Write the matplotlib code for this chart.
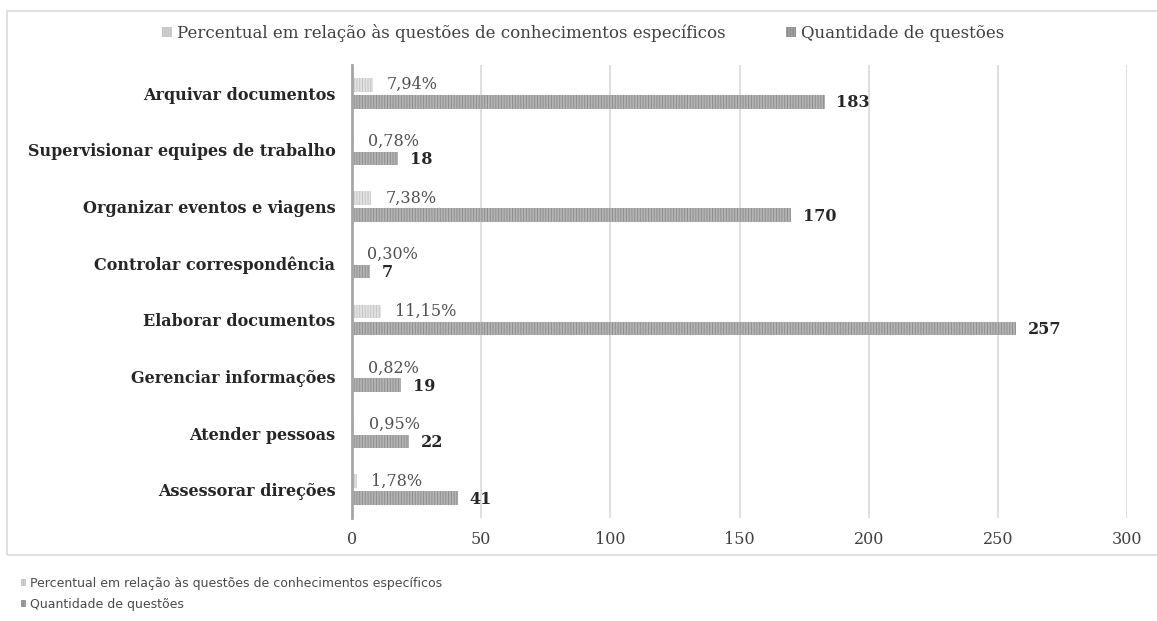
import matplotlib
matplotlib.use("Agg")
import matplotlib.pyplot as plt
from matplotlib.patches import Rectangle, Patch
import numpy as np

categories = ["Arquivar documentos", "Supervisionar equipes de trabalho",
              "Organizar eventos e viagens", "Controlar correspondência",
              "Elaborar documentos", "Gerenciar informações",
              "Atender pessoas", "Assessorar direções"]
percent_vals = [7.94, 0.78, 7.38, 0.30, 11.15, 0.82, 0.95, 1.78]
percent_labels = ["7,94%", "0,78%", "7,38%", "0,30%", "11,15%", "0,82%", "0,95%", "1,78%"]
quant_vals = [183, 18, 170, 7, 257, 19, 22, 41]
xticks = [0, 50, 100, 150, 200, 250, 300]
series_names = ["Percentual em relação às questões de conhecimentos específicos",
                "Quantidade de questões"]

plt.rcParams['font.family'] = ['DejaVu Serif']
plt.rcParams['hatch.linewidth'] = 0.7

fig = plt.figure(figsize=(11.57, 6.21), dpi=100)
# outer chart border
fig.patches.append(Rectangle((7/1157, 1-555/621), 1.0, (555-11)/621,
                             transform=fig.transFigure, fill=False,
                             edgecolor='#d9d9d9', linewidth=1.2))

ax = fig.add_axes([352/1157, 1-518/621, (1127-352)/1157, (518-65)/621])
y = np.arange(len(categories))
h = 0.24
off = 0.15
ax.barh(y - off, percent_vals, height=h, color='#e3e3e3', hatch='||||||',
        edgecolor='#c4c4c4', linewidth=0, zorder=3)
ax.barh(y + off, quant_vals, height=h, color='#b4b4b4', hatch='||||||',
        edgecolor='#8e8e8e', linewidth=0, zorder=3)

for yi, pv, pl in zip(y, percent_vals, percent_labels):
    ax.text(pv + 5.5, yi - off, pl, va='center', ha='left', fontsize=11.5,
            color='#505050', zorder=4)
for yi, qv in zip(y, quant_vals):
    ax.text(qv + 4.5, yi + off + 0.02, str(qv), va='center', ha='left', fontsize=11.5,
            color='#262626', fontweight='bold', zorder=4)

ax.set_xlim(0, 300)
ax.set_ylim(len(categories) - 0.5, -0.5)
ax.set_xticks(xticks)
ax.set_xticklabels([str(t) for t in xticks], fontsize=11.5, color='#404040')
ax.set_yticks(y)
ax.set_yticklabels(categories, fontsize=11.5, fontweight='bold', color='#262626')
ax.tick_params(axis='both', length=0)
ax.tick_params(axis='x', pad=9)
ax.tick_params(axis='y', pad=12)
ax.grid(axis='x', color='#d9d9d9', linewidth=1.2, zorder=0)
for s in ['top', 'right', 'bottom']:
    ax.spines[s].set_visible(False)
ax.spines['left'].set_color('#a6a6a6')
ax.spines['left'].set_linewidth(2)
ax.spines['left'].set_zorder(5)

handles = [Patch(facecolor='#d0d0d0', hatch='||||||', edgecolor='#bdbdbd', linewidth=0),
           Patch(facecolor='#a0a0a0', hatch='||||||', edgecolor='#8a8a8a', linewidth=0)]
fig.legend(handles, series_names, loc='center', bbox_to_anchor=(583/1157, 1-33/621),
           ncol=2, frameon=False, fontsize=12, handlelength=0.6, handleheight=0.6,
           handletextpad=0.3, columnspacing=3.6, labelcolor='#404040')

# secondary legend below the chart box
fig.legend(handles, series_names, loc='upper left', bbox_to_anchor=(10/1157, 1-566/621),
           ncol=1, frameon=False, handlelength=0.4, handleheight=0.5,
           handletextpad=0.3, labelspacing=0.6, labelcolor='#4a4a4a',
           prop={'family': 'DejaVu Sans', 'size': 9})

fig.savefig("out.png", dpi=100)
